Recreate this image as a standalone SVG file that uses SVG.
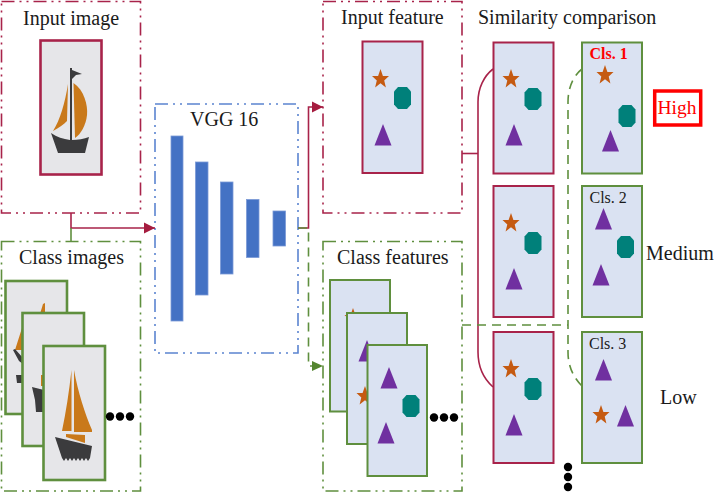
<svg xmlns="http://www.w3.org/2000/svg" width="714" height="493" viewBox="0 0 714 493">
<style>
  text { font-family: "Liberation Serif", "Times New Roman", serif; font-size: 20px; fill: #1a1a1a; }
  .small { font-size: 16px; }
  .panel { fill: #fff; stroke-width: 1.6; stroke-dasharray: 13 5 2 5 2 5; }
  .red { stroke: #a8234a; }
  .green { stroke: #5f8f3e; }
  .blue { stroke: #5b84d0; }
  .photo { fill: #e6e6e9; stroke-width: 2.6; }
  .card { fill: #dae2f2; stroke-width: 2; }
  .bar { fill: #4472c4; stroke: #7b9ad6; stroke-width: 0.8; }
  .line { fill: none; stroke-width: 1.6; }
  .dash { stroke-dasharray: 9 6; }
  .dot { fill: #000; }
  .sail { fill: #c9791a; }
  .hull { fill: #3b3b3d; }
</style>
<defs>
  <polygon id="star" fill="#c55a11" points="0,-10 2.4,-3 8.5,-3 3.7,1.400 5.400,8.500 0,4.200 -5.400,8.500 -3.700,1.400 -8.500,-3 -2.400,-3"/>
  <polygon id="oct" fill="#00807a" points="-4.500,-11 4.500,-11 8.500,-6.500 8.500,6.500 4.500,11 -4.500,11 -8.500,6.500 -8.500,-6.500"/>
  <polygon id="tri" fill="#7030a0" points="0,0 8.500,21.500 -8.500,21.500"/>
  <marker id="arrowRed" markerWidth="12" markerHeight="12" refX="11" refY="6" orient="auto" markerUnits="userSpaceOnUse">
    <path d="M0,0.500 L11,6 L0,11.500 Z" fill="#a51c3f"/>
  </marker>
  <marker id="arrowGreen" markerWidth="12" markerHeight="12" refX="11" refY="5" orient="auto" markerUnits="userSpaceOnUse">
    <path d="M0,0 L11,5 L0,10 Z" fill="#54852f"/>
  </marker>
</defs>

<g id="input-image">
  <rect class="panel red" x="1.500" y="1.500" width="139" height="211.500"/>
  <text x="23" y="25">Input image</text>
  <rect class="photo red" x="40.500" y="40.500" width="61" height="134"/>
  <path class="sail" d="M68,84 C65,103 60,120 53,131 C59,128 64,124 67,121 Z"/>
  <path class="sail" d="M73.500,83 C84,90 88,105 87,115 C86,125 81,134 75,138 Z"/>
  <path class="hull" d="M70,68 H72 V70 L82,74 L76,75 L72,79 V140 C78,140 84,139 89,137 L85,153 H58 L51,133 C57,137 63,139 70,140 Z"/>
</g>

<g id="class-images">
  <rect class="panel green" x="1.500" y="241.500" width="139" height="249.500"/>
  <text x="19" y="264">Class images</text>
  <rect class="photo green" x="5.500" y="281" width="61.500" height="133"/>
  <path class="sail" d="M40,314 L43,304 L45,303 L45,314 Z M15,350 L22,328 V350 Z"/>
  <path class="hull" d="M13,350 L15,349 L23,358 V364 L19,361 Z M16,375 H24 V383 H17 Z"/>
  <rect class="photo green" x="22.500" y="313" width="61.500" height="133"/>
  <path class="sail" d="M41,375 H44 V386 H41 Z"/>
  <path class="hull" d="M32,387 L44,390 V412 H36 L35,400 Z"/>
  <rect class="photo green" x="43.500" y="346" width="61.500" height="134"/>
  <path class="sail" d="M71.500,370 V431 H62 C66,412 69,392 71.500,370 Z"/>
  <path class="sail" d="M74,370 C78,392 85,414 92,430 L92,432 H74 Z"/>
  <path class="sail" d="M66,434 L85,435 V443 L66,437 Z"/>
  <path class="hull" d="M55,437 L92,446 L90,458 L88,461 L86,458 L84,461 L82,458 L80,461 L78,458 L76,461 L74,458 L72,461 L70,458 L68,461 L66,458 L64,461 L62,458 Z"/>
  <circle class="dot" cx="110" cy="416.500" r="4.200"/>
  <circle class="dot" cx="120" cy="416.500" r="4.200"/>
  <circle class="dot" cx="130" cy="416.500" r="4.200"/>
</g>

<g id="vgg16">
  <rect class="panel blue" x="155" y="104" width="143" height="249"/>
  <text x="190" y="126">VGG 16</text>
  <rect class="bar" x="171" y="136" width="12" height="185"/>
  <rect class="bar" x="195.500" y="162" width="12.500" height="133"/>
  <rect class="bar" x="220.500" y="182" width="12.500" height="92"/>
  <rect class="bar" x="246.500" y="199.500" width="12.500" height="58"/>
  <rect class="bar" x="273" y="211" width="12.500" height="35"/>
</g>

<g id="input-feature">
  <rect class="panel red" x="323" y="1.500" width="139" height="211.500"/>
  <text x="341" y="24">Input feature</text>
  <rect class="card red" x="362.500" y="41.500" width="60" height="131.500"/>
  <use href="#star" x="380.500" y="79"/>
  <use href="#oct" x="402.500" y="98"/>
  <use href="#tri" x="383" y="124"/>
</g>

<g id="class-features">
  <rect class="panel green" x="323" y="241.500" width="139" height="249.500"/>
  <text x="337" y="264">Class features</text>
  <rect class="card green" x="330" y="280" width="60" height="131.500"/>
  <use href="#star" x="353" y="318"/>
  <rect class="card green" x="347" y="313" width="60" height="131"/>
  <use href="#tri" x="367" y="340"/>
  <use href="#star" x="365" y="396"/>
  <rect class="card green" x="367.500" y="345" width="59.500" height="131"/>
  <use href="#tri" x="389" y="367"/>
  <use href="#oct" x="411" y="406"/>
  <use href="#tri" x="386" y="422"/>
  <circle class="dot" cx="434" cy="417.500" r="4.200"/>
  <circle class="dot" cx="444" cy="417.500" r="4.200"/>
  <circle class="dot" cx="454" cy="417.500" r="4.200"/>
</g>

<g id="connectors">
  <path class="line red" d="M71,213 V228 H155" marker-end="url(#arrowRed)"/>
  <path class="line green" d="M71,228 V241"/>
  <path class="line red" d="M298,228 H308.500 V107 H323" marker-end="url(#arrowRed)"/>
  <path class="line green dash" d="M298,228 H308.500 V366 H323" marker-end="url(#arrowGreen)"/>
  <path class="line red" d="M462,153.500 H478"/>
  <path class="line red" d="M493,69 C484,76 478,88 478,102 V352 C478,367 484,379 493,387"/>
  <path class="line green dash" d="M462,325 H568"/>
  <path class="line green dash" d="M582,69 C573,76 568,88 568,102 V352 C568,367 574,378 582,386"/>
</g>

<g id="similarity-comparison">
  <text x="478" y="24">Similarity comparison</text>
  <circle class="dot" cx="568" cy="467" r="4.200"/>
  <circle class="dot" cx="568" cy="477" r="4.200"/>
  <circle class="dot" cx="568" cy="487" r="4.200"/>
</g>

<g id="query-1">
  <rect class="card red" x="493.500" y="42.500" width="60" height="131"/>
  <use href="#star" x="511" y="79"/>
  <use href="#oct" x="533" y="99"/>
  <use href="#tri" x="514" y="124"/>
</g>
<g id="query-2">
  <rect class="card red" x="493.500" y="186" width="60" height="131"/>
  <use href="#star" x="511" y="223"/>
  <use href="#oct" x="533" y="243"/>
  <use href="#tri" x="514" y="268"/>
</g>
<g id="query-3">
  <rect class="card red" x="493.500" y="332" width="60" height="131"/>
  <use href="#star" x="511" y="369"/>
  <use href="#oct" x="533" y="389"/>
  <use href="#tri" x="514" y="414"/>
</g>

<g id="class-1">
  <rect class="card green" x="582" y="42.500" width="60" height="131"/>
  <text class="small" x="589.500" y="59" style="fill:#ff0000;font-weight:bold">Cls. 1</text>
  <use href="#star" x="605" y="75"/>
  <use href="#oct" x="627" y="116"/>
  <use href="#tri" x="610.500" y="130"/>
</g>
<g id="class-2">
  <rect class="card green" x="582" y="186" width="60" height="131"/>
  <text class="small" x="589.500" y="203">Cls. 2</text>
  <use href="#tri" x="603.500" y="208"/>
  <use href="#oct" x="625.500" y="247"/>
  <use href="#tri" x="601" y="264"/>
</g>
<g id="class-3">
  <rect class="card green" x="582" y="332" width="60" height="131"/>
  <text class="small" x="589" y="349">Cls. 3</text>
  <use href="#tri" x="603.500" y="359"/>
  <use href="#star" x="601" y="415"/>
  <use href="#tri" x="625.500" y="405"/>
</g>

<g id="score-high">
  <rect x="654.700" y="91" width="46" height="34" fill="#fff" stroke="#ff0000" stroke-width="3.500"/>
  <text x="657.500" y="114" style="fill:#ff0000;font-size:19.500px">High</text>
</g>
<g id="score-medium"><text x="646" y="260">Medium</text></g>
<g id="score-low"><text x="660" y="404">Low</text></g>
</svg>
